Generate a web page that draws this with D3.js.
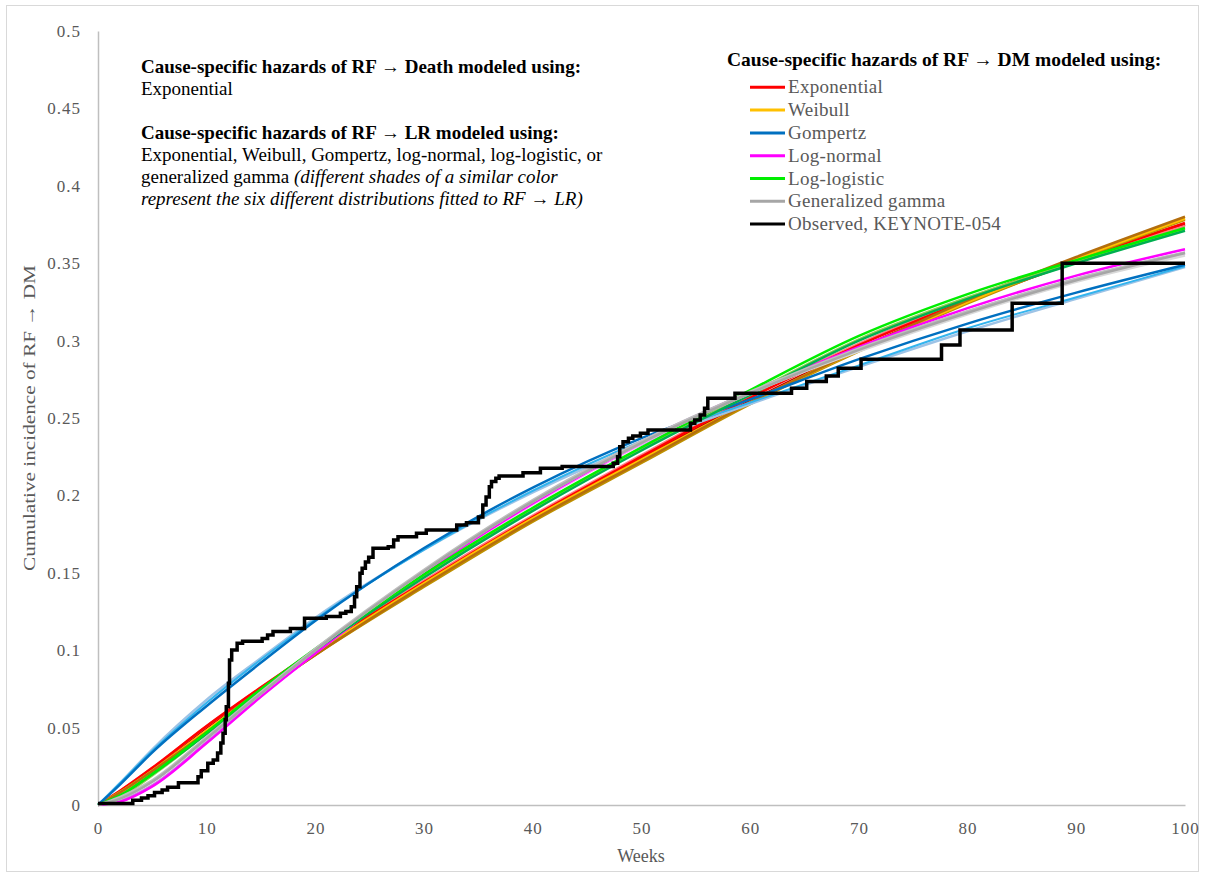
<!DOCTYPE html>
<html>
<head>
<meta charset="utf-8">
<script src="https://cdn.jsdelivr.net/npm/d3@7"></script>
<style>
	body { margin: 0; background: #fff; }
	svg text { font-family: "Liberation Serif", "Times New Roman", serif; }
</style>
</head>
<body>
<div id="chart"></div>
<script>

var weeks = [0, 2, 5, 10, 15, 20, 30, 40, 50, 60, 70, 80, 90, 100]

// RF -> DM distributions, three shades each (one per RF -> LR fit)
var expRed      = [0, 0.009, 0.024, 0.051, 0.076, 0.100, 0.144, 0.186, 0.225, 0.263, 0.297, 0.326, 0.352, 0.376]
var expDark     = [0, 0.008, 0.023, 0.050, 0.075, 0.099, 0.143, 0.185, 0.224, 0.261, 0.295, 0.325, 0.351, 0.375]
var expSalmon   = [0, 0.009, 0.024, 0.051, 0.076, 0.100, 0.145, 0.187, 0.226, 0.264, 0.298, 0.327, 0.352, 0.374]

var weiOrange   = [0, 0.008, 0.022, 0.048, 0.074, 0.098, 0.143, 0.185, 0.223, 0.260, 0.294, 0.325, 0.353, 0.379]
var weiBrown    = [0, 0.008, 0.022, 0.047, 0.073, 0.097, 0.142, 0.184, 0.222, 0.260, 0.294, 0.326, 0.354, 0.380]
var weiGold     = [0, 0.008, 0.021, 0.047, 0.073, 0.097, 0.141, 0.183, 0.221, 0.259, 0.293, 0.324, 0.352, 0.378]

var gomDark     = [0, 0.013, 0.034, 0.064, 0.092, 0.119, 0.166, 0.205, 0.237, 0.262, 0.288, 0.311, 0.331, 0.349]
var gomCyan     = [0, 0.014, 0.035, 0.066, 0.094, 0.120, 0.165, 0.203, 0.235, 0.260, 0.284, 0.308, 0.328, 0.348]
var gomLight    = [0, 0.014, 0.036, 0.068, 0.095, 0.121, 0.165, 0.202, 0.233, 0.259, 0.283, 0.306, 0.327, 0.3475]

var lnMagenta   = [0, 0.002, 0.012, 0.040, 0.070, 0.098, 0.150, 0.195, 0.234, 0.267, 0.296, 0.321, 0.342, 0.359]
var lnViolet    = [0, 0.003, 0.013, 0.041, 0.071, 0.099, 0.151, 0.196, 0.235, 0.267, 0.295, 0.319, 0.340, 0.357]
var lnPink      = [0, 0.002, 0.012, 0.040, 0.070, 0.098, 0.150, 0.194, 0.233, 0.266, 0.294, 0.318, 0.339, 0.356]

var llGreen     = [0, 0.006, 0.020, 0.047, 0.075, 0.101, 0.149, 0.192, 0.231, 0.268, 0.303, 0.330, 0.352, 0.3727]
var llTeal      = [0, 0.006, 0.020, 0.046, 0.074, 0.100, 0.147, 0.190, 0.229, 0.265, 0.300, 0.327, 0.350, 0.371]
var llLime      = [0, 0.005, 0.019, 0.046, 0.074, 0.100, 0.148, 0.191, 0.230, 0.266, 0.301, 0.328, 0.351, 0.372]

var ggGray      = [0, 0.004, 0.015, 0.043, 0.072, 0.100, 0.151, 0.196, 0.234, 0.266, 0.294, 0.318, 0.339, 0.3566]
var ggSilver    = [0, 0.005, 0.016, 0.044, 0.073, 0.101, 0.152, 0.197, 0.235, 0.267, 0.295, 0.319, 0.340, 0.357]
var ggPale      = [0, 0.004, 0.015, 0.043, 0.072, 0.100, 0.151, 0.196, 0.234, 0.266, 0.293, 0.317, 0.338, 0.355]

// observed KEYNOTE-054 step function: week of each step and the value after it
var obsWeeks = [0, 3.2, 4.0, 4.6, 5.2, 5.9, 6.4, 7.4, 9.2, 9.5, 10.1, 10.6, 11.0, 11.3, 11.5, 11.7, 11.8, 12.0, 12.1, 12.3, 12.8, 13.3,
	15.1, 15.6, 16.1, 17.7, 19.0, 21.0, 22.3, 22.8, 23.3, 23.6, 23.8, 24.1, 24.3, 24.6, 24.9, 25.3, 26.7, 27.2, 27.6, 29.3, 30.2,
	33.0, 33.9, 35.0, 35.4, 35.7, 36.0, 36.2, 36.6, 36.9, 39.1, 40.7, 42.7, 47.4, 47.8, 48.0, 48.3, 48.8, 49.2, 49.9, 50.6,
	54.5, 54.9, 55.4, 55.8, 56.1, 58.6, 63.8, 65.2, 67.0, 68.1, 70.2, 77.6, 79.3, 84.1, 88.7, 100]
var obsValues = [0.001, 0.003, 0.0045, 0.006, 0.008, 0.0097, 0.0114, 0.0144, 0.0183, 0.0222, 0.0269, 0.029, 0.0336, 0.040, 0.0463, 0.055, 0.0635, 0.0786, 0.0937, 0.1001, 0.1045, 0.1058,
	0.1076, 0.1098, 0.112, 0.114, 0.1206, 0.1217, 0.1238, 0.125, 0.128, 0.1346, 0.141, 0.1497, 0.153, 0.157, 0.160, 0.1658, 0.1668, 0.1712, 0.1733, 0.1755, 0.1776,
	0.1809, 0.1824, 0.186, 0.1938, 0.199, 0.2056, 0.2089, 0.211, 0.2125, 0.2147, 0.2175, 0.2186, 0.2207, 0.225, 0.2314, 0.2347, 0.2369, 0.2384, 0.2401, 0.2422,
	0.2466, 0.2487, 0.2519, 0.2563, 0.2627, 0.266, 0.2692, 0.2735, 0.2771, 0.2821, 0.2879, 0.2972, 0.3068, 0.3241, 0.3499, 0.3499]

var legendNames = ["Exponential", "Weibull", "Gompertz", "Log-normal", "Log-logistic", "Generalized gamma", "Observed, KEYNOTE-054"]
var legendColors = ["#ff0000", "#ffc000", "#0070c0", "#ff00ff", "#00ee00", "#a6a6a6", "#000000"]

var xTicks = [0, 10, 20, 30, 40, 50, 60, 70, 80, 90, 100]
var yTicks = [0, 0.05, 0.1, 0.15, 0.2, 0.25, 0.3, 0.35, 0.4, 0.45, 0.5]

// curves in drawing order, with their shade
var curves = [
	{ values: expDark, color: "#c00000", w: 2.5 },
	{ values: expSalmon, color: "#ff7c80", w: 2.5 },
	{ values: expRed, color: "#ff0000", w: 2.5 },
	{ values: weiGold, color: "#bf9000", w: 2.5 },
	{ values: weiOrange, color: "#ffc000", w: 3 },
	{ values: weiBrown, color: "#b46e0c", w: 2.5 },
	{ values: gomLight, color: "#9dc3e6", w: 2.5 },
	{ values: gomCyan, color: "#33b4ee", w: 2 },
	{ values: gomDark, color: "#0070c0", w: 2.5 },
	{ values: lnPink, color: "#ff99ff", w: 2 },
	{ values: lnViolet, color: "#c78fe0", w: 2 },
	{ values: lnMagenta, color: "#ff00ff", w: 2.5 },
	{ values: llLime, color: "#92d050", w: 2 },
	{ values: llTeal, color: "#00b050", w: 2.5 },
	{ values: llGreen, color: "#00ee00", w: 2.5 },
	{ values: ggPale, color: "#d9d9d9", w: 2.5 },
	{ values: ggSilver, color: "#bfbfbf", w: 2.5 },
	{ values: ggGray, color: "#a6a6a6", w: 2.5 }
]

var width = 1205, height = 878
var margin = {top: 31, right: 20, bottom: 73, left: 98}
var innerW = 1185 - margin.left
var innerH = 805 - margin.top

var svg = d3.select("#chart").append("svg")
	.attr("width", width)
	.attr("height", height)

svg.append("rect")
	.attr("x", 6.5).attr("y", 5.5)
	.attr("width", 1192).attr("height", 866)
	.attr("fill", "#fff")
	.attr("stroke", "#d9d9d9")

var g = svg.append("g").attr("transform", "translate(" + margin.left + "," + margin.top + ")")

var x = d3.scaleLinear().domain([0, 100]).range([0, innerW])
var y = d3.scaleLinear().domain([0, 0.5]).range([innerH, 0])

var xAxis = d3.axisBottom(x).tickValues(xTicks).tickSize(0).tickSizeOuter(0).tickPadding(17)
var yAxis = d3.axisLeft(y).tickValues(yTicks).tickSize(0).tickSizeOuter(0).tickPadding(17)
	.tickFormat(function(d) { return String(+d.toFixed(2)) })

var gx = g.append("g").attr("transform", "translate(0," + innerH + ")").call(xAxis)
var gy = g.append("g").call(yAxis)

gx.select(".domain").attr("stroke", "#bfbfbf").attr("stroke-width", 1.5)
gy.select(".domain").attr("stroke", "#bfbfbf").attr("stroke-width", 1.5)

g.selectAll(".tick text")
	.attr("fill", "#595959")
	.style("font-size", "17px")
	.style("letter-spacing", "1px")
	.style("font-family", "Liberation Serif, serif")

// axis titles
svg.append("text")
	.attr("x", 641).attr("y", 862)
	.attr("text-anchor", "middle")
	.attr("fill", "#595959")
	.style("font-size", "18px")
	.text("Weeks")

svg.append("text")
	.attr("transform", "translate(35,418) rotate(-90)")
	.attr("text-anchor", "middle")
	.attr("fill", "#595959")
	.style("font-size", "17px")
	.attr("textLength", 306)
	.attr("lengthAdjust", "spacingAndGlyphs")
	.text("Cumulative incidence of RF \u2192 DM")

var line = d3.line()
	.x(function(d) { return x(d[0]) })
	.y(function(d) { return y(d[1]) })
	.curve(d3.curveMonotoneX)

g.selectAll(".fit")
	.data(curves)
	.enter().append("path")
	.attr("class", "fit")
	.attr("d", function(c) { return line(weeks.map(function(w, i) { return [w, c.values[i]] })) })
	.attr("fill", "none")
	.attr("stroke", function(c) { return c.color })
	.attr("stroke-width", function(c) { return c.w })

var stepLine = d3.line()
	.x(function(d) { return x(d[0]) })
	.y(function(d) { return y(d[1]) })
	.curve(d3.curveStepAfter)

g.append("path")
	.attr("d", stepLine(obsWeeks.map(function(w, i) { return [w, obsValues[i]] })))
	.attr("fill", "none")
	.attr("stroke", "#000")
	.attr("stroke-width", 3.5)

// annotation, top left
var note = svg.append("g").attr("transform", "translate(141,0)")
var noteLines = [
	{ y: 73, parts: [{ t: "Cause-specific hazards of RF \u2192 Death modeled using:", b: true }] },
	{ y: 95, parts: [{ t: "Exponential" }] },
	{ y: 139, parts: [{ t: "Cause-specific hazards of RF \u2192 LR modeled using:", b: true }] },
	{ y: 161, parts: [{ t: "Exponential, Weibull, Gompertz, log-normal, log-logistic, or" }] },
	{ y: 183, parts: [{ t: "generalized gamma " }, { t: "(different shades of a similar color", i: true }] },
	{ y: 205, parts: [{ t: "represent the six different distributions fitted to RF \u2192 LR)", i: true }] }
]
noteLines.forEach(function(l) {
	var t = note.append("text").attr("x", 0).attr("y", l.y).attr("fill", "#000").style("font-size", "19px")
	l.parts.forEach(function(p) {
		t.append("tspan")
			.style("font-weight", p.b ? "bold" : "normal")
			.style("font-style", p.i ? "italic" : "normal")
			.text(p.t)
	})
})

// legend
var legend = svg.append("g").attr("transform", "translate(727,0)")
legend.append("text")
	.attr("x", 0).attr("y", 66)
	.attr("fill", "#000")
	.style("font-size", "19.5px")
	.style("font-weight", "bold")
	.text("Cause-specific hazards of RF \u2192 DM modeled using:")

var items = legend.selectAll(".item")
	.data(legendNames)
	.enter().append("g")
	.attr("class", "item")
	.attr("transform", function(d, i) { return "translate(0," + (87.3 + i * 22.8) + ")" })

items.append("line")
	.attr("x1", 23).attr("x2", 58)
	.attr("stroke", function(d, i) { return legendColors[i] })
	.attr("stroke-width", 3)

items.append("text")
	.attr("x", 61).attr("y", 6)
	.attr("fill", "#595959")
	.style("font-size", "19px")
	.style("letter-spacing", "0.3px")
	.text(function(d) { return d })

</script>
</body>
</html>
